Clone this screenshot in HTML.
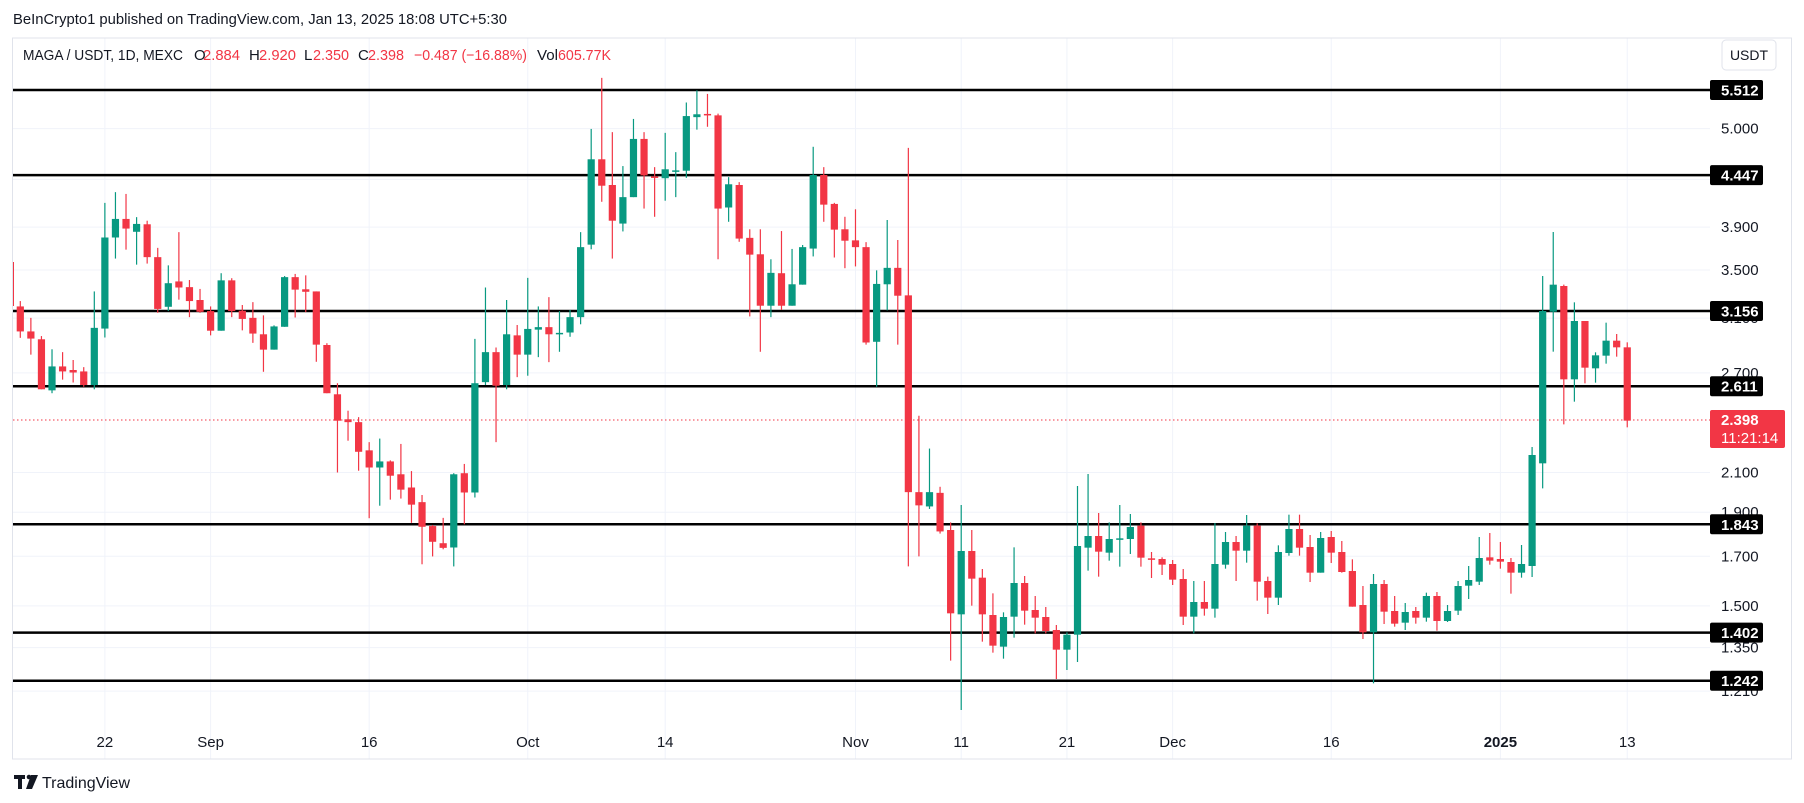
<!DOCTYPE html>
<html><head><meta charset="utf-8"><style>
html,body{margin:0;padding:0;background:#fff;}
svg{display:block;font-family:"Liberation Sans",sans-serif;}
</style></head><body>
<svg id="c" width="1804" height="803" viewBox="0 0 1804 803" xmlns="http://www.w3.org/2000/svg">
<rect width="1804" height="803" fill="#fff"/>
<g id="grid"></g>
<line x1="12.5" y1="38" x2="12.5" y2="759" stroke="#e0e3eb"/>
<line x1="12" y1="38" x2="1792" y2="38" stroke="#e0e3eb"/>
<line x1="12" y1="759" x2="1792" y2="759" stroke="#e0e3eb"/>
<line x1="1791.5" y1="38" x2="1791.5" y2="759" stroke="#e0e3eb"/>
<g id="levels"></g>
<line x1="13" y1="420" x2="1710" y2="420" stroke="#f23645" stroke-width="1" stroke-dasharray="1.5,2.5"/>
<g id="candles"></g>
<g id="axis" font-size="15" fill="#131722"></g>
<text x="13" y="24" font-size="15" fill="#131722" textLength="494" lengthAdjust="spacingAndGlyphs">BeInCrypto1 published on TradingView.com, Jan 13, 2025 18:08 UTC+5:30</text>
<g font-size="15" fill="#131722">
<text x="23" y="60" textLength="160" lengthAdjust="spacingAndGlyphs">MAGA / USDT, 1D, MEXC</text>
<text x="194" y="60">O</text><text x="203" y="60" fill="#f23645" textLength="37" lengthAdjust="spacingAndGlyphs">2.884</text>
<text x="249" y="60">H</text><text x="259" y="60" fill="#f23645" textLength="37" lengthAdjust="spacingAndGlyphs">2.920</text>
<text x="304" y="60">L</text><text x="313" y="60" fill="#f23645" textLength="36" lengthAdjust="spacingAndGlyphs">2.350</text>
<text x="358" y="60">C</text><text x="368" y="60" fill="#f23645" textLength="36" lengthAdjust="spacingAndGlyphs">2.398</text>
<text x="414" y="60" fill="#f23645" textLength="113" lengthAdjust="spacingAndGlyphs">−0.487 (−16.88%)</text>
<text x="537" y="60" textLength="21" lengthAdjust="spacingAndGlyphs">Vol</text><text x="558" y="60" fill="#f23645" textLength="53" lengthAdjust="spacingAndGlyphs">605.77K</text>
</g>
<rect x="1722" y="40" width="54" height="30" rx="4" fill="#fff" stroke="#e0e3eb"/>
<text x="1749" y="60" font-size="14" fill="#131722" text-anchor="middle">USDT</text>
<g fill="#131722"><rect x="14" y="775" width="11" height="4"/><rect x="18" y="775" width="4" height="14"/><circle cx="29" cy="777" r="2.3"/><polygon points="31,775 38,775 32,789 26,789"/></g>
<text x="42" y="788" font-size="16" fill="#131722" textLength="88" lengthAdjust="spacingAndGlyphs">TradingView</text>
</svg>
<script>
var NS="http://www.w3.org/2000/svg";
function el(p,t,a,txt){var e=document.createElementNS(NS,t);for(var k in a)e.setAttribute(k,a[k]);if(txt!==undefined)e.textContent=txt;document.getElementById(p).appendChild(e);return e;}
function py(p){return 90+396.4*(Math.log(5.512)-Math.log(p));}
function cx(i){return 20.3+(i-1)*10.572;}
// gridlines horizontal
var ticks=[5.0,4.4,3.9,3.5,3.1,2.7,2.1,1.9,1.7,1.5,1.35,1.21];
ticks.forEach(function(t){var y=py(t);el("grid","line",{x1:13,x2:1710,y1:y,y2:y,stroke:"#f0f3fa"});});
// vertical date gridlines
var dates=[[9,"22"],[19,"Sep"],[34,"16"],[49,"Oct"],[62,"14"],[80,"Nov"],[90,"11"],[100,"21"],[110,"Dec"],[125,"16"],[141,"2025"],[153,"13"]];
dates.forEach(function(d){var x=cx(d[0]);el("grid","line",{x1:x,x2:x,y1:38,y2:759,stroke:"#f0f3fa"});
 var t=el("axis","text",{x:x,y:747,"text-anchor":"middle"},d[1]);if(d[1]=="2025")t.setAttribute("font-weight","bold");});
// tick labels
[[5.0,"5.000"],[3.9,"3.900"],[3.5,"3.500"],[3.1,"3.100"],[2.7,"2.700"],[2.1,"2.100"],[1.9,"1.900"],[1.7,"1.700"],[1.5,"1.500"],[1.35,"1.350"],[1.21,"1.210"]].forEach(function(t){el("axis","text",{x:1721,y:py(t[0])+5},t[1]);});
// levels
[5.512,4.447,3.156,2.611,1.843,1.402,1.242].forEach(function(l){var y=py(l);
 el("levels","line",{x1:13,x2:1710,y1:y,y2:y,stroke:"#000","stroke-width":2.5});
 el("axis","rect",{x:1710,y:y-10,width:53,height:20,rx:2,fill:"#000"});
 el("axis","text",{x:1721,y:y+5.5,fill:"#fff","font-weight":"bold"},l.toFixed(3));});
el("axis","rect",{x:1710,y:410,width:75,height:38,rx:2,fill:"#f23645"});
el("axis","text",{x:1721,y:425,fill:"#fff","font-weight":"bold"},"2.398");
el("axis","text",{x:1721,y:443,fill:"#fff"},"11:21:14");
// candles: [bodyTop, bodyBot, wickTop, wickBot, color]
var A=[[690,760,675,778,'r'],[760,780,722,825,'r'],[782,922,773,922,'r'],[858,925,810,933,'g'],[858,872,818,895,'r'],[868,875,840,903,'r'],[872,910,860,915,'r'],[750,910,648,922,'g'],[497,752,400,777,'g'],[445,497,370,556,'g'],[445,472,375,531,'r'],[459,481,440,573,'g'],[460,552,450,570,'r'],[552,697,526,708,'r'],[625,691,575,703,'g'],[620,637,482,671,'r'],[636,675,616,720,'r'],[672,705,641,708,'r'],[703,758,690,771,'r'],[617,758,597,758,'g'],[617,703,611,720,'r'],[702,725,686,757,'r'],[722,766,678,792,'r'],[768,811,715,873,'r'],[746,811,743,811,'g'],[608,747,605,747,'g'],[608,643,599,721,'r'],[642,649,603,706,'r'],[648,797,648,845,'r'],[798,933,793,933,'r'],[936,1010,905,1155,'r'],[1006,1014,982,1066,'r'],[1014,1097,1000,1150,'r'],[1093,1141,1070,1283,'r'],[1124,1141,1060,1248,'g'],[1124,1164,1121,1231,'r'],[1160,1203,1075,1228,'r'],[1197,1245,1151,1296,'r'],[1238,1307,1218,1412,'r'],[1305,1349,1302,1390,'r'],[1353,1366,1282,1370,'r'],[1160,1365,1157,1418,'g'],[1157,1211,1131,1300,'r'],[905,1211,781,1225,'g'],[818,902,637,910,'g'],[818,912,805,1070,'r'],
[768,910,672,922,'g'],[771,825,742,888,'r'],[753,825,610,884,'g'],[748,755,690,832,'g'],[748,768,664,846,'r'],[764,766,703,817,'g'],[720,763,700,775,'g'],[524,720,482,740,'g'],[278,517,193,530,'g'],[278,352,50,397,'r'],[350,450,202,556,'r'],[384,458,297,480,'g'],[221,384,165,384,'g'],[221,323,202,416,'r'],[326,329,300,439,'r'],[306,331,204,394,'g'],[309,311,258,384,'g'],[157,310,119,330,'g'],[152,160,85,195,'g'],[151,153,95,187,'r'],[155,416,150,558,'r'],[348,413,328,453,'g'],[350,500,342,509,'r'],[498,545,474,718,'r'],[544,688,474,817,'r'],[596,688,558,720,'g'],[597,688,479,700,'r'],[628,688,529,688,'g'],[524,629,518,629,'g'],[322,528,243,550,'g'],[322,405,300,453,'r'],[403,475,400,553,'r'],[474,506,439,583,'r'],[505,524,418,578,'r'],[524,791,510,797,'r'],[627,789,589,915,'g'],[582,628,448,701,'g'],[582,660,504,797,'r'],[659,1210,246,1418,'r'],[1210,1247,996,1390,'r'],[1210,1250,1088,1257,'g'],[1212,1320,1195,1326,'r']];
var B=[[180,430,157,572,'r'],[243,433,105,720,'g'],[243,326,180,407,'r'],[323,433,297,515,'r'],[435,527,370,548,'r'],[441,530,427,566,'g'],[339,440,232,503,'g'],[339,422,318,464,'r'],[420,443,378,490,'r'],[441,483,411,490,'r'],[480,539,465,627,'r'],[494,539,487,600,'g'],[228,494,48,576,'g'],[198,233,12,302,'g'],[198,245,129,320,'r'],[207,248,157,272,'g'],[205,209,105,290,'g'],[171,207,132,252,'g'],[167,263,157,290,'r'],[265,268,246,324,'r'],[267,284,262,315,'r'],[282,329,270,345,'r'],[327,440,297,465,'r'],[396,440,333,490,'g'],[396,416,333,437,'r'],[282,416,159,443,'g'],[216,284,186,296,'g'],[216,242,198,333,'r'],[167,242,135,278,'g'],[167,335,160,392,'r']];
var C=[[333,383,320,432,'r'],[246,383,226,405,'g'],[177,249,134,257,'g'],[177,233,134,257,'r'],[231,308,195,336,'r'],[204,308,186,308,'g'],[201,248,183,279,'r'],[246,306,213,308,'r'],[303,410,268,410,'r'],[405,487,348,507,'r'],[342,487,312,640,'g'],[342,425,330,462,'r'],[423,461,378,470,'r'],[426,458,399,480,'g'],[423,443,411,461,'r'],[378,443,368,455,'g'],[378,453,366,482,'r'],[423,453,405,456,'g'],[348,422,333,435,'g'],[330,347,288,387,'g'],[264,335,201,345,'g'],[262,272,189,284,'r'],[267,275,216,296,'r'],[276,308,264,371,'r'],[282,308,225,323,'g']];
var D=[[183,640,78,715,'g'],[104,185,-54,305,'g'],[108,388,104,523,'r'],[213,388,157,455,'g'],[213,353,213,400,'r'],[316,355,307,398,'g'],[272,317,218,341,'g'],[272,292,252,320,'r'],[292,512,277,532,'r']];
var all=[];
A.forEach(function(c){all.push(c.slice(0,4).map(function(v){return 60+v/2.8;}).concat(c[4]));});
B.forEach(function(c){all.push(c.slice(0,4).map(function(v){return 470+v/3;}).concat(c[4]));});
C.forEach(function(c){all.push(c.slice(0,4).map(function(v){return 470+v/3;}).concat(c[4]));});
all.push([455,566,447,577,'g']);
D.forEach(function(c){all.push(c.slice(0,4).map(function(v){return 250+v/3;}).concat(c[4]));});
el("candles","line",{x1:13.5,x2:13.5,y1:262,y2:306,stroke:"#f23645"});
all.forEach(function(c,i){var x=cx(i+1);var col=c[4]=='g'?'#089981':'#f23645';
 el("candles","line",{x1:x,x2:x,y1:c[2],y2:c[3],stroke:col,"stroke-width":1.2});
 var h=Math.max(1.5,c[1]-c[0]);
 el("candles","rect",{x:x-3.6,y:c[0],width:7.2,height:h,fill:col});});
</script>
</body></html>
